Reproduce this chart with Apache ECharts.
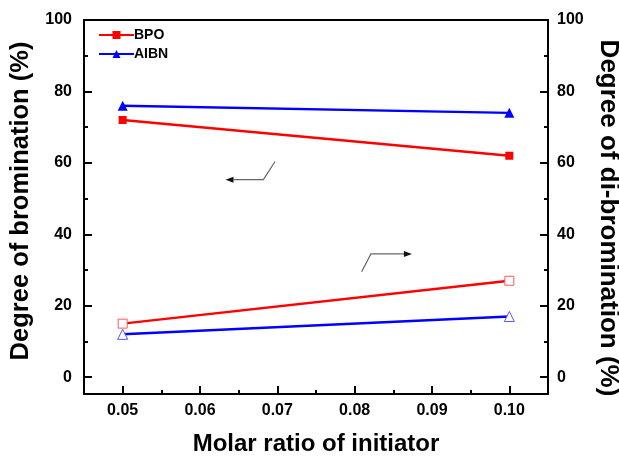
<!DOCTYPE html>
<html>
<head>
<meta charset="utf-8">
<script src="https://cdn.jsdelivr.net/npm/echarts@6/dist/echarts.min.js"></script>
<style>html,body{margin:0;padding:0;background:#fff}#c{width:619px;height:462px}</style>
</head>
<body>
<div id="c"></div>
<script>
// ---- data ----
const molarRatio = [0.05, 0.10];
const bpoBromination = [72, 62];
const aibnBromination = [76, 74];
const bpoDiBromination = [15, 27];
const aibnDiBromination = [12, 17];
const xTicks = [0.05, 0.06, 0.07, 0.08, 0.09, 0.10];
const xMinorTicks = [0.055, 0.065, 0.075, 0.085, 0.095];
const yTicks = [0, 20, 40, 60, 80, 100];
const yMinorTicks = [10, 30, 50, 70, 90];
// annotation arrows (data units, left-axis scale)
const arrowToLeft = [[0.0697, 60.4], [0.0682, 55.3], [0.0633, 55.3]];
const arrowToRight = [[0.0809, 29.5], [0.0821, 34.5], [0.0874, 34.5]];

const FONT = 'Liberation Sans';
const X_MIN = 0.045, X_MAX = 0.105, Y_MIN = -4.7, Y_MAX = 100;
const axisLineStyle = {color: '#000', width: 2};

function pairs(xs, ys) { return xs.map((x, i) => [x, ys[i]]); }

const chart = echarts.init(document.getElementById('c'), null, {renderer: 'canvas'});
const labelStyle = {color: '#000', fontFamily: FONT, fontWeight: 'bold', fontSize: 16};
const nameStyle = {color: '#000', fontFamily: FONT, fontWeight: 'bold', fontSize: 24};

const option = {
  animation: false,
  backgroundColor: '#fff',
  grid: {left: 84, right: 71, top: 20, bottom: 68, containLabel: false, outerBoundsMode: 'none'},
  legend: {
    data: [{name: 'BPO'}, {name: 'AIBN'}],
    orient: 'vertical',
    left: 93, top: 23,
    itemWidth: 35, itemHeight: 10, itemGap: 5,
    textStyle: {color: '#000', fontFamily: FONT, fontWeight: 'bold', fontSize: 14, padding: [0,0,0,-5]}
  },
  xAxis: [
    {type: 'value', position: 'bottom', min: X_MIN, max: X_MAX,
     axisLine: {show: true, onZero: false, lineStyle: axisLineStyle},
     axisTick: {show: true, inside: true, length: 8, lineStyle: {color: '#000', width: 2}, customValues: xTicks},
     axisLabel: {show: true, margin: 9, customValues: xTicks, formatter: v => v.toFixed(2), ...labelStyle},
     splitLine: {show: false},
     name: 'Molar ratio of initiator', nameLocation: 'middle', nameGap: 38, nameTextStyle: nameStyle},
    {type: 'value', position: 'bottom', min: X_MIN, max: X_MAX,
     axisLine: {show: false, onZero: false},
     axisTick: {show: true, inside: true, length: 4, lineStyle: {color: '#000', width: 2}, customValues: xMinorTicks},
     axisLabel: {show: false}, splitLine: {show: false}},
    {type: 'value', position: 'top', min: X_MIN, max: X_MAX,
     axisLine: {show: true, onZero: false, lineStyle: axisLineStyle},
     axisTick: {show: false}, axisLabel: {show: false}, splitLine: {show: false}}
  ],
  yAxis: [
    {type: 'value', position: 'left', min: Y_MIN, max: Y_MAX,
     axisLine: {show: true, onZero: false, lineStyle: axisLineStyle},
     axisTick: {show: true, inside: true, length: 8, lineStyle: {color: '#000', width: 2}, customValues: yTicks},
     axisLabel: {show: true, margin: 12, customValues: yTicks, ...labelStyle},
     splitLine: {show: false},
     name: 'Degree of bromination (%)', nameLocation: 'middle', nameGap: 42, nameRotate: 90,
     nameTextStyle: {...nameStyle, fontSize: 25.5, padding: [0, 0, 0, 12]}},
    {type: 'value', position: 'left', min: Y_MIN, max: Y_MAX,
     axisLine: {show: false, onZero: false},
     axisTick: {show: true, inside: true, length: 4, lineStyle: {color: '#000', width: 2}, customValues: yMinorTicks},
     axisLabel: {show: false}, splitLine: {show: false}},
    {type: 'value', position: 'right', min: Y_MIN, max: Y_MAX,
     axisLine: {show: true, onZero: false, lineStyle: axisLineStyle},
     axisTick: {show: true, inside: true, length: 8, lineStyle: {color: '#000', width: 2}, customValues: yTicks},
     axisLabel: {show: true, margin: 9, customValues: yTicks, ...labelStyle},
     splitLine: {show: false},
     name: 'Degree of di-bromination (%)', nameLocation: 'middle', nameGap: 47, nameRotate: -90,
     nameTextStyle: {...nameStyle, fontSize: 26, padding: [0, 0, 0, 22]}},
    {type: 'value', position: 'right', min: Y_MIN, max: Y_MAX,
     axisLine: {show: false, onZero: false},
     axisTick: {show: true, inside: true, length: 4, lineStyle: {color: '#000', width: 2}, customValues: yMinorTicks},
     axisLabel: {show: false}, splitLine: {show: false}}
  ],
  series: [
    {name: 'BPO', type: 'line', xAxisIndex: 0, yAxisIndex: 0, data: pairs(molarRatio, bpoBromination),
     symbol: 'rect', symbolSize: 8, color: '#ff0000', lineStyle: {color: '#ff0000', width: 2.5},
     itemStyle: {color: '#ff0000'}, z: 3},
    {name: 'AIBN', type: 'line', xAxisIndex: 0, yAxisIndex: 0, data: pairs(molarRatio, aibnBromination),
     symbol: 'triangle', symbolSize: 10, color: '#0000ff', lineStyle: {color: '#0000ff', width: 2.5},
     itemStyle: {color: '#0000ff'}, z: 3},
    {name: 'BPO di', type: 'line', xAxisIndex: 0, yAxisIndex: 2, data: pairs(molarRatio, bpoDiBromination),
     symbol: 'rect', symbolSize: 9, lineStyle: {color: '#ff0000', width: 2.5},
     itemStyle: {color: '#fff', borderColor: '#ff5555', borderWidth: 1}, z: 3},
    {name: 'AIBN di', type: 'line', xAxisIndex: 0, yAxisIndex: 2, data: pairs(molarRatio, aibnDiBromination),
     symbol: 'triangle', symbolSize: 10, lineStyle: {color: '#0000ff', width: 2.5},
     itemStyle: {color: '#fff', borderColor: '#5555ff', borderWidth: 1}, z: 3}
  ]
};
chart.setOption(option);

// annotation arrows positioned through the chart's own scales
function arrowGraphics(pts, id) {
  const px = pts.map(p => chart.convertToPixel({xAxisIndex: 0, yAxisIndex: 0}, p));
  const end = px[px.length - 1], prev = px[px.length - 2];
  const dx = end[0] - prev[0], dy = end[1] - prev[1];
  const len = Math.hypot(dx, dy), ux = dx / len, uy = dy / len;
  const L = 8, W = 3;
  const base = [end[0] - ux * L, end[1] - uy * L];
  const head = [[end[0], end[1]], [base[0] - uy * W, base[1] + ux * W], [base[0] + uy * W, base[1] - ux * W]];
  const linePts = px.slice(0, -1).concat([base]);
  return [
    {type: 'polyline', id: id + 'l', shape: {points: linePts}, style: {stroke: '#666', lineWidth: 1.2, fill: null}, z: 10},
    {type: 'polygon', id: id + 'h', shape: {points: head}, style: {fill: '#111'}, z: 10}
  ];
}
chart.setOption({graphic: arrowGraphics(arrowToLeft, 'a1').concat(arrowGraphics(arrowToRight, 'a2'))});
</script>
</body>
</html>
